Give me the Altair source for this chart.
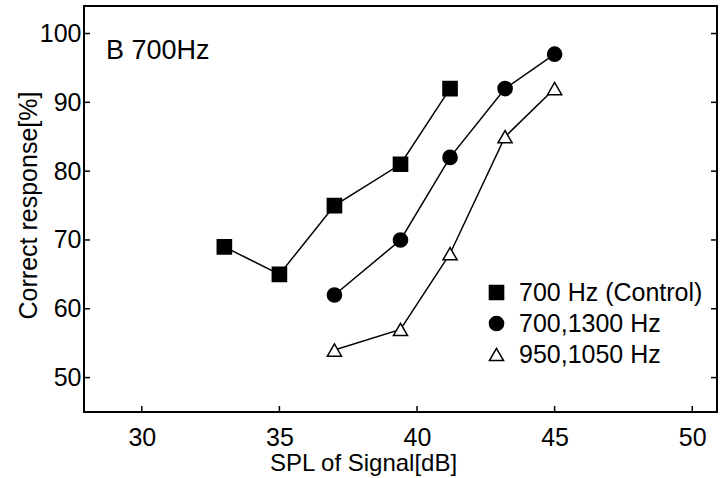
import altair as alt
import pandas as pd

series = ["700 Hz (Control)", "700,1300 Hz", "950,1050 Hz"]
sq_x = [33, 35, 37, 39.4, 41.2]
sq_y = [69, 65, 75, 81, 92]
ci_x = [37, 39.4, 41.2, 43.2, 45]
ci_y = [62, 70, 82, 92, 97]
tr_x = [37, 39.4, 41.2, 43.2, 45]
tr_y = [54, 57, 68, 85, 92]
x_ticks = [30, 35, 40, 45, 50]
y_ticks = [50, 60, 70, 80, 90, 100]

rows = []
for name, xs, ys in zip(series, [sq_x, ci_x, tr_x], [sq_y, ci_y, tr_y]):
    for a, b in zip(xs, ys):
        rows.append({"series": name, "spl": a, "resp": b})
df = pd.DataFrame(rows)

W, H = 633, 406
FONT = "Liberation Sans"
xscale = alt.Scale(domain=[27.9, 50.9], nice=False, zero=False)
yscale = alt.Scale(domain=[45, 104], nice=False, zero=False)

xaxis = alt.Axis(values=x_ticks, ticks=False, domain=False, grid=False,
                 labelFont=FONT, labelFontSize=25, labelColor="black", labelPadding=13,
                 title="SPL of Signal[dB]", titleFont=FONT, titleFontSize=24,
                 titleFontWeight="normal", titleColor="black",
                 titleX=279, titleY=51, titleBaseline="middle", titleAlign="center")
yaxis = alt.Axis(values=y_ticks, ticks=False, domain=False, grid=False,
                 labelFont=FONT, labelFontSize=25, labelColor="black", labelPadding=3,
                 title="Correct response[%]", titleFont=FONT, titleFontSize=25,
                 titleFontWeight="normal", titleColor="black",
                 titleX=-56, titleY=199, titleBaseline="middle", titleAlign="center",
                 titleAngle=270)

base = alt.Chart(df)

lines = base.mark_line(color="black", strokeWidth=1.5).encode(
    x=alt.X("spl:Q", scale=xscale, axis=xaxis),
    y=alt.Y("resp:Q", scale=yscale, axis=yaxis),
    detail="series:N",
)

leg = alt.Legend(title=None, orient="none", legendX=400, legendY=274,
                 labelFont=FONT, labelFontSize=25, labelColor="black", labelLimit=0,
                 symbolSize=200, symbolStrokeWidth=1.5,
                 labelOffset=10, rowPadding=5, padding=0)

points = base.mark_point(filled=False, strokeWidth=1.5, size=200, opacity=1).encode(
    x=alt.X("spl:Q", scale=xscale),
    y=alt.Y("resp:Q", scale=yscale),
    shape=alt.Shape("series:N", scale=alt.Scale(domain=series, range=["square", "circle", "triangle-up"]),
                    legend=leg),
    fill=alt.Fill("series:N", scale=alt.Scale(domain=series, range=["black", "black", "white"]),
                  legend=leg),
    stroke=alt.Stroke("series:N", scale=alt.Scale(domain=series, range=["black", "black", "black"]),
                      legend=leg),
)

xt = pd.DataFrame({"v": x_ticks})
yt = pd.DataFrame({"v": y_ticks})
xtick_rules = alt.Chart(xt).mark_rule(color="black", strokeWidth=1.5).encode(
    x=alt.X("v:Q", scale=xscale), y=alt.value(H), y2=alt.value(H - 6))
ytick_left = alt.Chart(yt).mark_rule(color="black", strokeWidth=1.5).encode(
    y=alt.Y("v:Q", scale=yscale), x=alt.value(0), x2=alt.value(6))
ytick_right = alt.Chart(yt).mark_rule(color="black", strokeWidth=1.5).encode(
    y=alt.Y("v:Q", scale=yscale), x=alt.value(W), x2=alt.value(W - 6))

label = alt.Chart(pd.DataFrame({"t": ["B 700Hz"]})).mark_text(
    font=FONT, fontSize=27, color="black", align="left", baseline="alphabetic"
).encode(text="t:N", x=alt.value(22), y=alt.value(53))

chart = alt.layer(lines, points, xtick_rules, ytick_left, ytick_right, label).properties(
    width=W, height=H,
    autosize=alt.AutoSizeParams(type="none"),
    padding={"left": 84, "top": 6, "right": 4, "bottom": 66},
    background="white",
).configure_view(stroke="black", strokeWidth=2)

chart.save("out.html", embed_options={"renderer": "svg", "actions": False})
